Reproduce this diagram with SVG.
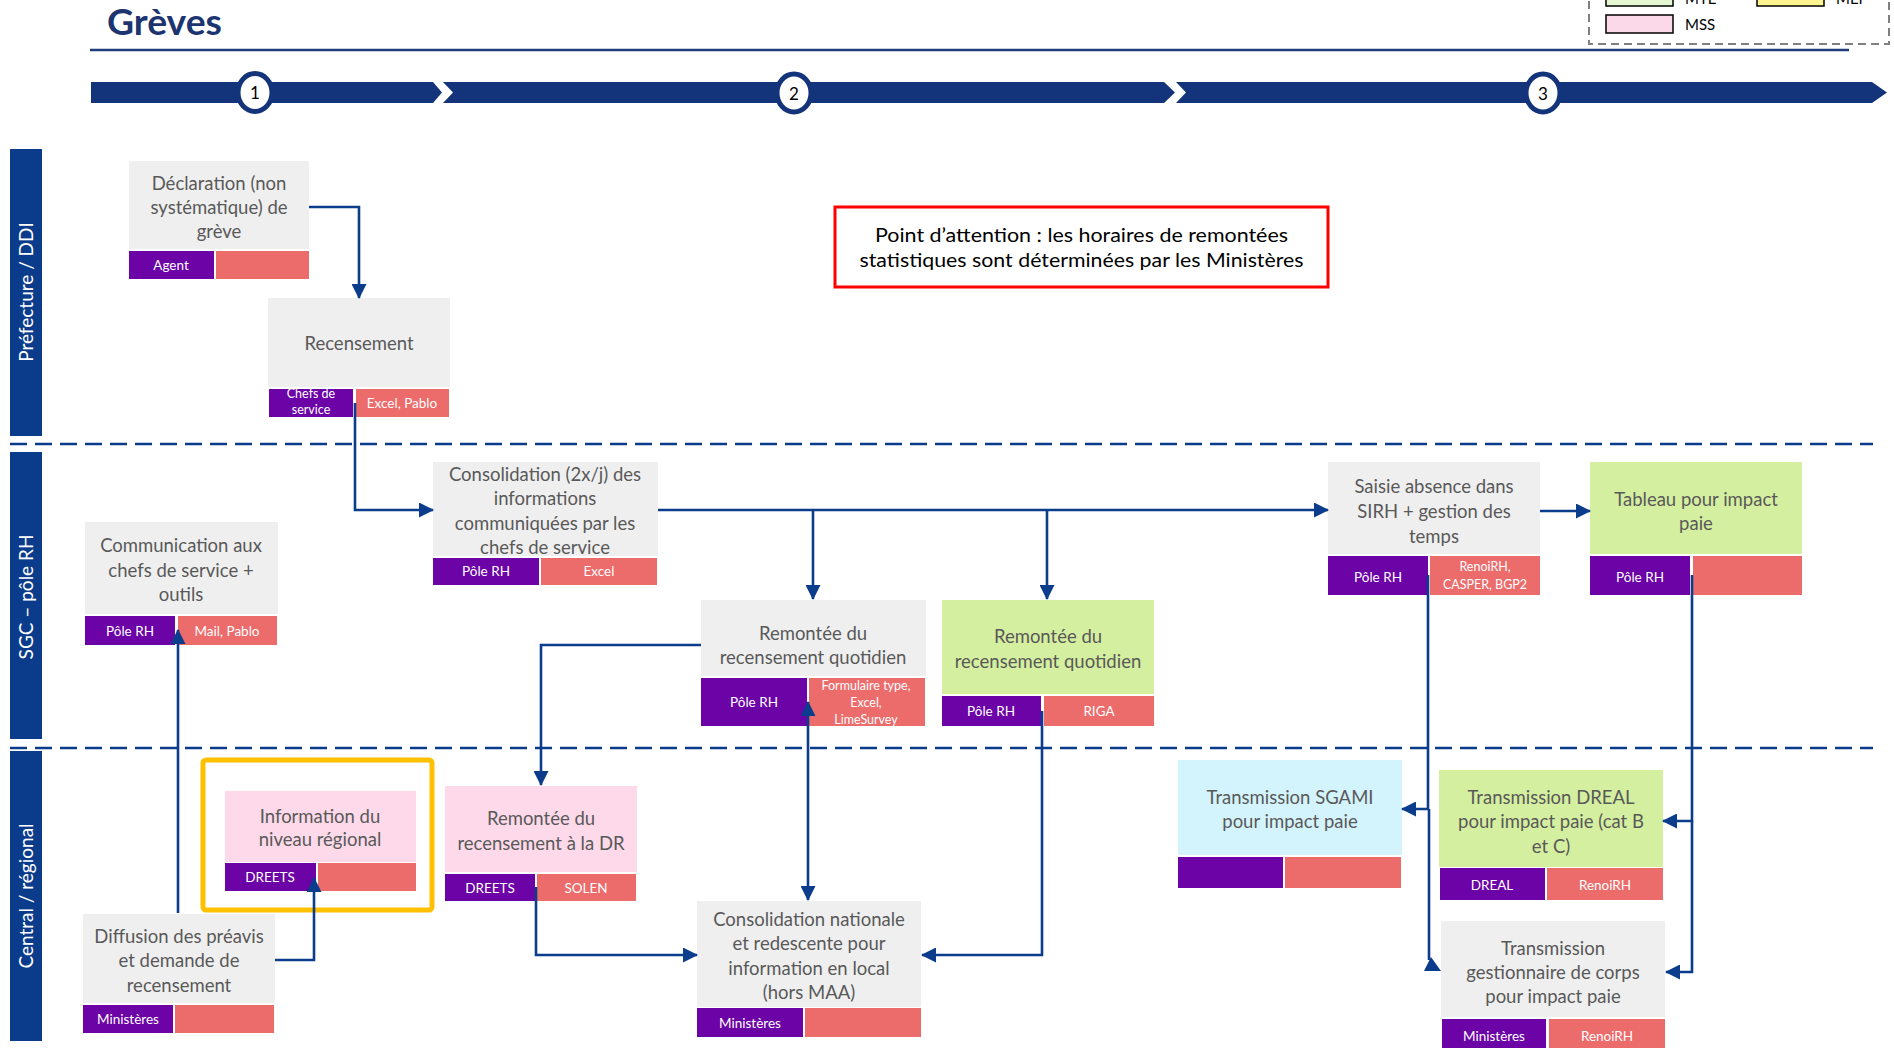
<svg xmlns="http://www.w3.org/2000/svg" width="1894" height="1048" viewBox="0 0 1894 1048">
<defs>
<marker id="arr" markerUnits="userSpaceOnUse" markerWidth="15" markerHeight="15" refX="14" refY="7.5" orient="auto"><path d="M0,0 L15,7.5 L0,15 z" fill="#0b3d8c"/></marker>
<marker id="arrS" markerUnits="userSpaceOnUse" markerWidth="15" markerHeight="15" refX="14" refY="7.5" orient="auto-start-reverse"><path d="M0,0 L15,7.5 L0,15 z" fill="#0b3d8c"/></marker>
</defs>
<style>
.nt{font-family:Lato,'Liberation Sans',sans-serif;font-size:18.5px;fill:#595959;text-anchor:middle}
.bt{font-family:Lato,'Liberation Sans',sans-serif;font-size:13.5px;fill:#ffffff;text-anchor:middle}
.bs{font-family:Lato,'Liberation Sans',sans-serif;font-size:12.5px;fill:#ffffff;text-anchor:middle}
.gray{fill:#efefef}.green{fill:#d5efa0}.pink{fill:#fdd9ea}.blue{fill:#d4f4fd}
.pu{fill:#6b03a6}.sa{fill:#ec6b6b}
.conn{fill:none;stroke:#0b3d8c;stroke-width:2.6}
.lane{fill:#0b3c8c}
.lt{font-family:Lato,'Liberation Sans',sans-serif;font-size:19px;fill:#ffffff;text-anchor:middle}
.sep{stroke:#0b3c8c;stroke-width:2.6;stroke-dasharray:17 8;fill:none}
.tl{fill:#13347a}
.num{font-family:Lato,'Liberation Sans',sans-serif;font-size:17px;fill:#000;text-anchor:middle}
.lg{font-family:Lato,'Liberation Sans',sans-serif;font-size:15px;fill:#000}
</style>

<g id="header">
<text x="107" y="35" font-family="Lato,'Liberation Sans',sans-serif" font-weight="bold" font-size="37" fill="#1c3570" textLength="115" lengthAdjust="spacingAndGlyphs">Grèves</text>
<line x1="90" y1="50" x2="1849" y2="50" stroke="#1f3c7c" stroke-width="2.5"/>
</g>

<g id="legend">
<rect x="1589" y="-10" width="300" height="54" fill="none" stroke="#808080" stroke-width="2" stroke-dasharray="8 5"/>
<rect x="1606" y="-10" width="67" height="16" fill="#e4f6d2" stroke="#000" stroke-width="1.5"/>
<text class="lg" x="1685" y="4">MTE</text>
<rect x="1757" y="-10" width="67" height="16" fill="#fdf48f" stroke="#000" stroke-width="1.5"/>
<text class="lg" x="1836" y="4">MEF</text>
<rect x="1606" y="15" width="67" height="18" fill="#fcd9e9" stroke="#000" stroke-width="1.5"/>
<text class="lg" x="1685" y="30">MSS</text>
</g>

<g id="timeline">
<polygon class="tl" points="91,82 433,82 442,92.5 433,103 91,103"/>
<polygon class="tl" points="443,82 1164,82 1175,92.5 1164,103 443,103 453,92.5"/>
<polygon class="tl" points="1176,82 1872,82 1887,92.5 1872,103 1176,103 1186,92.5"/>
<ellipse cx="255" cy="92.5" rx="17" ry="19" fill="#fff" stroke="#13347a" stroke-width="5"/>
<text class="num" x="255" y="99">1</text>
<ellipse cx="794" cy="93" rx="17" ry="19" fill="#fff" stroke="#13347a" stroke-width="5"/>
<text class="num" x="794" y="99.5">2</text>
<ellipse cx="1543" cy="93" rx="17" ry="19" fill="#fff" stroke="#13347a" stroke-width="5"/>
<text class="num" x="1543" y="99.5">3</text>
</g>

<g id="lanes">
<rect class="lane" x="10" y="149" width="32" height="287"/>
<text class="lt" transform="translate(33,292) rotate(-90)">Préfecture / DDI</text>
<rect class="lane" x="10" y="452" width="32" height="287"/>
<text class="lt" transform="translate(33,597) rotate(-90)">SGC – pôle RH</text>
<rect class="lane" x="10" y="751" width="32" height="290"/>
<text class="lt" transform="translate(33,896) rotate(-90)">Central / régional</text>
<line class="sep" x1="10" y1="444" x2="1873" y2="444"/>
<line class="sep" x1="10" y1="748" x2="1873" y2="748"/>
</g>

<g id="attention">
<rect x="835" y="207" width="493" height="80" fill="#fff" stroke="#ff0000" stroke-width="3"/>
<text x="1081.5" y="242" font-family="Lato,'Liberation Sans',sans-serif" font-size="19.5" fill="#000" text-anchor="middle" textLength="413" lengthAdjust="spacingAndGlyphs">Point d’attention : les horaires de remontées</text>
<text x="1081.5" y="267" font-family="Lato,'Liberation Sans',sans-serif" font-size="19.5" fill="#000" text-anchor="middle" textLength="444" lengthAdjust="spacingAndGlyphs">statistiques sont déterminées par les Ministères</text>
</g>

<g id="node-declaration">
<rect class="gray" x="129" y="161" width="180" height="88"/>
<text class="nt" x="219" y="190">Déclaration (non</text>
<text class="nt" x="219" y="214">systématique) de</text>
<text class="nt" x="219" y="238">grève</text>
<rect class="pu" x="129" y="251" width="85" height="28"/>
<rect class="sa" x="216" y="251" width="93" height="28"/>
<text class="bt" x="171" y="270">Agent</text>
</g>

<g id="node-recensement">
<rect class="gray" x="268" y="298" width="182" height="89"/>
<text class="nt" x="359" y="350">Recensement</text>
<rect class="pu" x="269" y="389" width="84" height="28"/>
<rect class="sa" x="356" y="389" width="93" height="28"/>
<text class="bs" x="311" y="398">Chefs de</text>
<text class="bs" x="311" y="414">service</text>
<text class="bt" x="402" y="408">Excel, Pablo</text>
</g>

<g id="node-consolidation">
<rect class="gray" x="433" y="462" width="225" height="94"/>
<text class="nt" x="545" y="481">Consolidation (2x/j) des</text>
<text class="nt" x="545" y="505">informations</text>
<text class="nt" x="545" y="530">communiquées par les</text>
<text class="nt" x="545" y="554">chefs de service</text>
<rect class="pu" x="433" y="558" width="106" height="27"/>
<rect class="sa" x="541" y="558" width="116" height="27"/>
<text class="bt" x="486" y="576">Pôle RH</text>
<text class="bt" x="599" y="576">Excel</text>
</g>

<g id="node-communication">
<rect class="gray" x="85" y="522" width="193" height="92"/>
<text class="nt" x="181" y="552">Communication aux</text>
<text class="nt" x="181" y="577">chefs de service +</text>
<text class="nt" x="181" y="601">outils</text>
<rect class="pu" x="85" y="616" width="90" height="29"/>
<rect class="sa" x="178" y="616" width="99" height="29"/>
<text class="bt" x="130" y="636">Pôle RH</text>
<text class="bt" x="227" y="636">Mail, Pablo</text>
</g>

<g id="node-remontee-gris">
<rect class="gray" x="701" y="600" width="225" height="76"/>
<text class="nt" x="813" y="640">Remontée du</text>
<text class="nt" x="813" y="664">recensement quotidien</text>
<rect class="pu" x="701" y="678" width="106" height="48"/>
<rect class="sa" x="809" y="678" width="116" height="48"/>
<text class="bt" x="754" y="707">Pôle RH</text>
<text class="bs" x="866" y="690">Formulaire type,</text>
<text class="bs" x="866" y="707">Excel,</text>
<text class="bs" x="866" y="724">LimeSurvey</text>
</g>

<g id="node-remontee-vert">
<rect class="green" x="942" y="600" width="212" height="94"/>
<text class="nt" x="1048" y="643">Remontée du</text>
<text class="nt" x="1048" y="668">recensement quotidien</text>
<rect class="pu" x="942" y="696" width="99" height="30"/>
<rect class="sa" x="1044" y="696" width="110" height="30"/>
<text class="bt" x="991" y="716">Pôle RH</text>
<text class="bt" x="1099" y="716">RIGA</text>
</g>

<g id="node-saisie">
<rect class="gray" x="1328" y="462" width="212" height="92"/>
<text class="nt" x="1434" y="493">Saisie absence dans</text>
<text class="nt" x="1434" y="518">SIRH + gestion des</text>
<text class="nt" x="1434" y="543">temps</text>
<rect class="pu" x="1328" y="556" width="100" height="39"/>
<rect class="sa" x="1430" y="556" width="110" height="39"/>
<text class="bt" x="1378" y="582">Pôle RH</text>
<text class="bs" x="1485" y="571">RenoiRH,</text>
<text class="bs" x="1485" y="589">CASPER, BGP2</text>
</g>

<g id="node-tableau">
<rect class="green" x="1590" y="462" width="212" height="92"/>
<text class="nt" x="1696" y="506">Tableau pour impact</text>
<text class="nt" x="1696" y="530">paie</text>
<rect class="pu" x="1590" y="556" width="100" height="39"/>
<rect class="sa" x="1693" y="556" width="109" height="39"/>
<text class="bt" x="1640" y="582">Pôle RH</text>
</g>

<g id="node-information">
<rect x="203" y="760" width="229" height="150" rx="3" fill="none" stroke="#ffc000" stroke-width="5"/>
<rect class="pink" x="225" y="791" width="191" height="71"/>
<text class="nt" x="320" y="823">Information du</text>
<text class="nt" x="320" y="846">niveau régional</text>
<rect class="pu" x="225" y="863" width="91" height="28"/>
<rect class="sa" x="318" y="863" width="98" height="28"/>
<text class="bt" x="270" y="882">DREETS</text>
</g>

<g id="node-remontee-dr">
<rect class="pink" x="445" y="786" width="192" height="86"/>
<text class="nt" x="541" y="825">Remontée du</text>
<text class="nt" x="541" y="850">recensement à la DR</text>
<rect class="pu" x="445" y="874" width="90" height="27"/>
<rect class="sa" x="537" y="874" width="99" height="27"/>
<text class="bt" x="490" y="893">DREETS</text>
<text class="bt" x="586" y="893">SOLEN</text>
</g>

<g id="node-diffusion">
<rect class="gray" x="83" y="914" width="192" height="89"/>
<text class="nt" x="179" y="943">Diffusion des préavis</text>
<text class="nt" x="179" y="967">et demande de</text>
<text class="nt" x="179" y="992">recensement</text>
<rect class="pu" x="83" y="1005" width="90" height="28"/>
<rect class="sa" x="175" y="1005" width="99" height="28"/>
<text class="bt" x="128" y="1024">Ministères</text>
</g>

<g id="node-consolidation-nationale">
<rect class="gray" x="697" y="901" width="224" height="106"/>
<text class="nt" x="809" y="926">Consolidation nationale</text>
<text class="nt" x="809" y="950">et redescente pour</text>
<text class="nt" x="809" y="975">information en local</text>
<text class="nt" x="809" y="999">(hors MAA)</text>
<rect class="pu" x="697" y="1008" width="106" height="29"/>
<rect class="sa" x="805" y="1008" width="116" height="29"/>
<text class="bt" x="750" y="1028">Ministères</text>
</g>

<g id="node-sgami">
<rect class="blue" x="1178" y="760" width="224" height="95"/>
<text class="nt" x="1290" y="804">Transmission SGAMI</text>
<text class="nt" x="1290" y="828">pour impact paie</text>
<rect class="pu" x="1178" y="857" width="105" height="31"/>
<rect class="sa" x="1285" y="857" width="116" height="31"/>
</g>

<g id="node-dreal">
<rect class="green" x="1439" y="770" width="224" height="97"/>
<text class="nt" x="1551" y="804">Transmission DREAL</text>
<text class="nt" x="1551" y="828">pour impact paie (cat B</text>
<text class="nt" x="1551" y="853">et C)</text>
<rect class="pu" x="1440" y="868" width="105" height="32"/>
<rect class="sa" x="1547" y="868" width="116" height="32"/>
<text class="bt" x="1492" y="890">DREAL</text>
<text class="bt" x="1605" y="890">RenoiRH</text>
</g>

<g id="node-gestionnaire">
<rect class="gray" x="1441" y="921" width="224" height="96"/>
<text class="nt" x="1553" y="955">Transmission</text>
<text class="nt" x="1553" y="979">gestionnaire de corps</text>
<text class="nt" x="1553" y="1003">pour impact paie</text>
<rect class="pu" x="1442" y="1019" width="104" height="30"/>
<rect class="sa" x="1549" y="1019" width="116" height="30"/>
<text class="bt" x="1494" y="1041">Ministères</text>
<text class="bt" x="1607" y="1041">RenoiRH</text>
</g>

<g id="connectors">
<path class="conn" d="M309,207 H359 V298" marker-end="url(#arr)"/>
<path class="conn" d="M355,403 V510 H433" marker-end="url(#arr)"/>
<path class="conn" d="M658,510 H1328" marker-end="url(#arr)"/>
<path class="conn" d="M813,510 V599" marker-end="url(#arr)"/>
<path class="conn" d="M1047,510 V599" marker-end="url(#arr)"/>
<path class="conn" d="M1540,511 H1590" marker-end="url(#arr)"/>
<path class="conn" d="M701,645 H541 V785" marker-end="url(#arr)"/>
<path class="conn" d="M536,887 V955 H697" marker-end="url(#arr)"/>
<path class="conn" d="M808,702 V900" marker-start="url(#arrS)" marker-end="url(#arr)"/>
<path class="conn" d="M1042,711 V955 H922" marker-end="url(#arr)"/>
<path class="conn" d="M178,913 V630" marker-end="url(#arr)"/>
<path class="conn" d="M275,960 H314 V878" marker-end="url(#arr)"/>
<path class="conn" d="M1428,575 V809 H1402" marker-end="url(#arr)"/>
<path class="conn" d="M1429,809 V960"/>
<polygon points="1431,957 1424,971 1441,971" fill="#0b3d8c"/>
<path class="conn" d="M1692,575 V821 H1663" marker-end="url(#arr)"/>
<path class="conn" d="M1692,821 V972 H1666" marker-end="url(#arr)"/>
</g>
</svg>
